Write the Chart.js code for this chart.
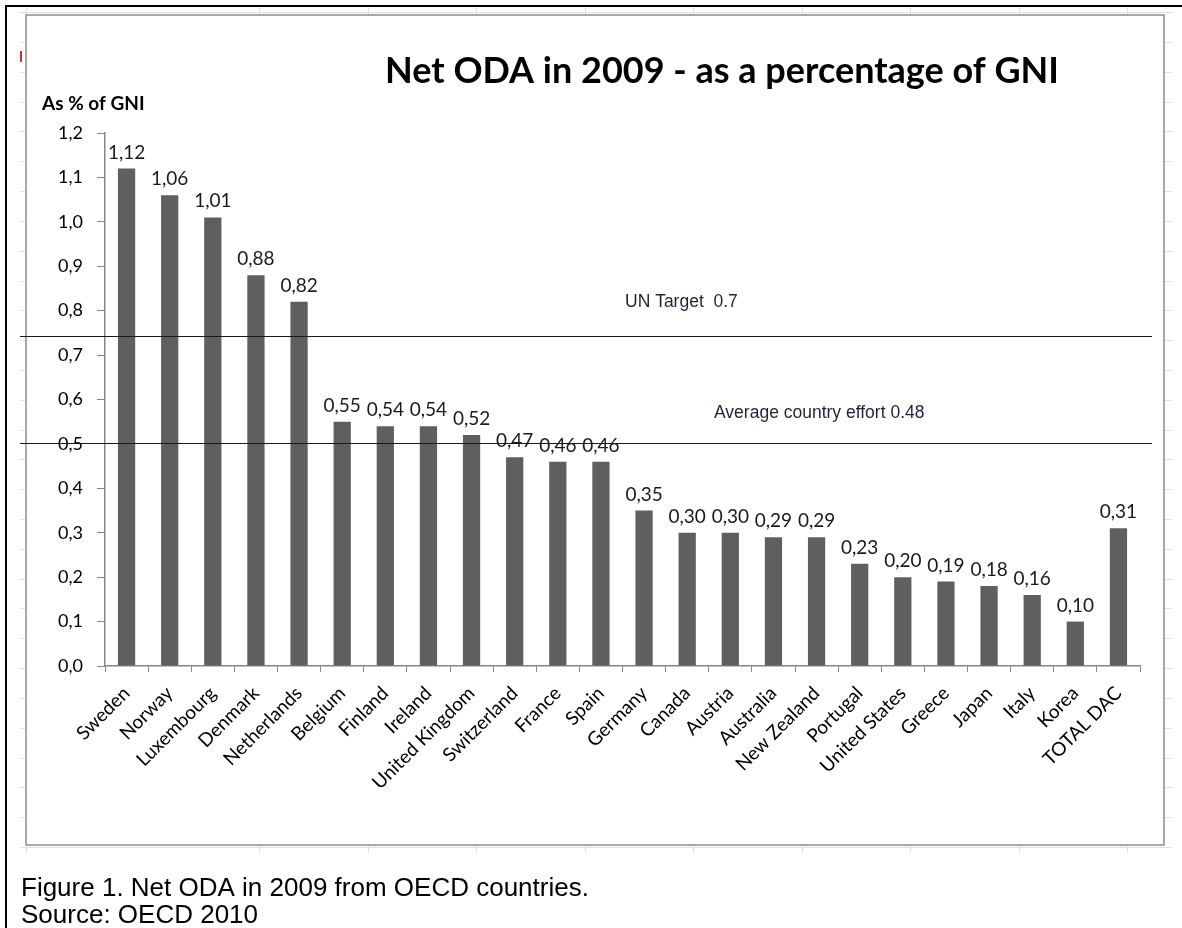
<!DOCTYPE html>
<html><head><meta charset="utf-8">
<script src="https://cdn.jsdelivr.net/npm/chart.js@4.4.0/dist/chart.umd.min.js"></script>
<style>html,body{margin:0;padding:0;background:#fff}#wrap{width:1182px;height:928px;position:relative}</style>
</head><body><div id="wrap"><canvas id="c" width="1182" height="928"></canvas></div>
<script>
const countries = ["Sweden","Norway","Luxembourg","Denmark","Netherlands","Belgium","Finland","Ireland","United Kingdom","Switzerland","France","Spain","Germany","Canada","Austria","Australia","New Zealand","Portugal","United States","Greece","Japan","Italy","Korea","TOTAL DAC"];
const odaPercentGNI = [1.12,1.06,1.01,0.88,0.82,0.55,0.54,0.54,0.52,0.47,0.46,0.46,0.35,0.30,0.30,0.29,0.29,0.23,0.20,0.19,0.18,0.16,0.10,0.31];
const yTicks = [0,0.1,0.2,0.3,0.4,0.5,0.6,0.7,0.8,0.9,1.0,1.1,1.2];
// reference lines as drawn in the original (labels state 0.7 and 0.48)
const refLineLevels = [0.742, 0.502];
const refLineLabels = ["UN Target  0.7", "Average country effort 0.48"];
const chartTitle = "Net ODA in 2009 - as a percentage of GNI";
const yAxisTitle = "As % of GNI";
const captionLines = ["Figure 1. Net ODA in 2009 from OECD countries.", "Source: OECD 2010"];

const fmt = v => v.toFixed(2).replace('.', ',');
const BOX = {l:26, t:15, r:1164, b:845};

const bgPlugin = {
  id:'bg',
  beforeDraw(chart){
    const ctx = chart.ctx;
    ctx.save();
    ctx.fillStyle='#fff'; ctx.fillRect(0,0,1182,928);
    // spreadsheet gridlines
    ctx.strokeStyle='#dbe1ec'; ctx.lineWidth=1;
    ctx.beginPath();
    for(let i=0;i<=28;i++){const y=Math.round(12+ (i===0?0:30+ (i-1)*29.815))+0.5; ctx.moveTo(20,y); ctx.lineTo(1172,y);}
    const vx=[26,259,367.6,476,585,693,802,910,1019,1127];
    vx.forEach(x=>{x=Math.round(x)+0.5; ctx.moveTo(x,8); ctx.lineTo(x,853);});
    ctx.stroke();
    // chart box
    ctx.fillStyle='#fff'; ctx.fillRect(BOX.l,BOX.t,BOX.r-BOX.l,BOX.b-BOX.t);
    ctx.strokeStyle='#8c8c8c'; ctx.lineWidth=1.5;
    ctx.strokeRect(BOX.l,BOX.t,BOX.r-BOX.l,BOX.b-BOX.t);
    // small marker at left edge
    ctx.fillStyle='#c0392b'; ctx.fillRect(20,51,2,11);
    // outer black frame
    ctx.fillStyle='#000';
    ctx.fillRect(5,5,1177,2);
    ctx.fillRect(5,5,2,923);
    // title
    ctx.fillStyle='#000'; ctx.textAlign='center'; ctx.textBaseline='alphabetic';
    ctx.font='bold 36px Lato';
    ctx.fillText(chartTitle,722,83);
    ctx.textAlign='left';
    ctx.font='bold 19px Lato';
    ctx.fillText(yAxisTitle,42,110);
    // caption
    ctx.font='26px "Liberation Sans"';
    ctx.fillStyle='#000';
    ctx.fillText(captionLines[0],21,896);
    ctx.fillText(captionLines[1],21,923);
    ctx.restore();
  },
  afterDatasetsDraw(chart){
    const ctx=chart.ctx, meta=chart.getDatasetMeta(0), ys=chart.scales.y;
    ctx.save();
    ctx.fillStyle='#1a1a1a'; ctx.font='19px Lato'; ctx.textAlign='center'; ctx.textBaseline='alphabetic';
    meta.data.forEach((bar,i)=>{ ctx.fillText(fmt(odaPercentGNI[i]), bar.x, bar.y-10); });
    // reference lines
    ctx.strokeStyle='#1a1a1a'; ctx.lineWidth=1.2;
    refLineLevels.forEach(v=>{
      const y=Math.round(ys.getPixelForValue(v))+0.5;
      ctx.beginPath(); ctx.moveTo(20,y); ctx.lineTo(1152,y); ctx.stroke();
    });
    ctx.fillStyle='#2a1d38'; ctx.font='17.5px "Liberation Sans"'; ctx.textAlign='left'; ctx.textBaseline='alphabetic';
    ctx.fillText(refLineLabels[0],625,307);
    ctx.fillText(refLineLabels[1],714,418);
    ctx.restore();
  }
};

new Chart(document.getElementById('c'),{
  type:'bar',
  data:{labels:countries,datasets:[{data:odaPercentGNI,backgroundColor:'#5f5f5f',barPercentage:0.4,categoryPercentage:1}]},
  options:{
    responsive:false,animation:false,
    layout:{padding:{left:40,right:42,top:133,bottom:0}},
    plugins:{legend:{display:false},tooltip:{enabled:false},title:{display:false}},
    scales:{
      x:{
        grid:{display:true,drawOnChartArea:false,offset:true,color:'#868686',tickLength:6},
        border:{color:'#868686',width:1.5},
        ticks:{minRotation:45,maxRotation:45,autoSkip:false,color:'#000',font:{family:'Lato',size:19},padding:10},
        afterFit(s){s.height=262;}
      },
      y:{
        min:0,max:1.2,
        afterBuildTicks(s){s.ticks=yTicks.map(v=>({value:v}));},
        grid:{display:true,drawOnChartArea:false,color:'#868686',tickLength:8},
        border:{color:'#868686',width:1.5},
        ticks:{color:'#000',font:{family:'Lato',size:18},padding:14,callback:v=>v.toFixed(1).replace('.',',')},
        afterFit(s){s.width=65;}
      }
    }
  },
  plugins:[bgPlugin]
});
</script></body></html>
